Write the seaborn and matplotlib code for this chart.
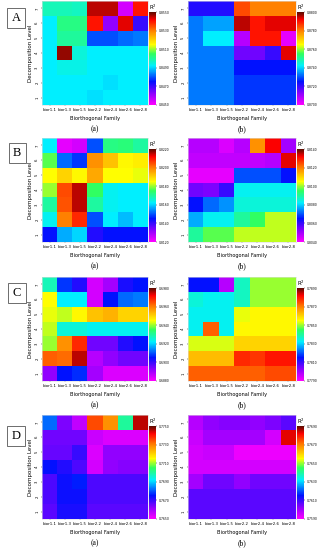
import numpy as np
import pandas as pd
import matplotlib
matplotlib.use("Agg")
import matplotlib.pyplot as plt
import seaborn as sns
from matplotlib.colors import LinearSegmentedColormap

families = ["bior1.1", "bior1.3", "bior1.5", "bior2.2", "bior2.4", "bior2.6", "bior2.8"]
levels = [7, 6, 5, 4, 3, 2, 1]  # top to bottom

A_a = [[0.8498, 0.8498, 0.8497, 0.8545, 0.8545, 0.8455, 0.8540],
       [0.8492, 0.8502, 0.8502, 0.8540, 0.8462, 0.8543, 0.8470],
       [0.8492, 0.8500, 0.8500, 0.8480, 0.8480, 0.8482, 0.8483],
       [0.8492, 0.8547, 0.8495, 0.8492, 0.8492, 0.8492, 0.8492],
       [0.8492, 0.8494, 0.8494, 0.8492, 0.8492, 0.8492, 0.8492],
       [0.8492, 0.8492, 0.8492, 0.8492, 0.8491, 0.8492, 0.8492],
       [0.8492, 0.8492, 0.8492, 0.8491, 0.8492, 0.8492, 0.8492]]
A_b = [[0.8722, 0.8722, 0.8722, 0.8785, 0.8780, 0.8780, 0.8780],
       [0.8733, 0.8736, 0.8736, 0.8795, 0.8790, 0.8793, 0.8793],
       [0.8733, 0.8742, 0.8742, 0.8708, 0.8790, 0.8790, 0.8703],
       [0.8733, 0.8733, 0.8733, 0.8715, 0.8715, 0.8720, 0.8793],
       [0.8733, 0.8733, 0.8733, 0.8725, 0.8725, 0.8725, 0.8725],
       [0.8733, 0.8733, 0.8733, 0.8728, 0.8728, 0.8728, 0.8728],
       [0.8733, 0.8733, 0.8733, 0.8728, 0.8728, 0.8728, 0.8728]]
B_a = [[0.8162, 0.8123, 0.8125, 0.8150, 0.8172, 0.8173, 0.8170],
       [0.8177, 0.8152, 0.8148, 0.8198, 0.8192, 0.8186, 0.8187],
       [0.8185, 0.8190, 0.8186, 0.8195, 0.8185, 0.8185, 0.8184],
       [0.8180, 0.8205, 0.8215, 0.8175, 0.8163, 0.8162, 0.8162],
       [0.8170, 0.8204, 0.8215, 0.8170, 0.8163, 0.8162, 0.8162],
       [0.8163, 0.8200, 0.8208, 0.8150, 0.8162, 0.8158, 0.8162],
       [0.8145, 0.8157, 0.8160, 0.8142, 0.8145, 0.8145, 0.8145]]
B_b = [[0.8048, 0.8048, 0.8044, 0.8048, 0.8118, 0.8132, 0.8050],
       [0.8047, 0.8047, 0.8047, 0.8047, 0.8047, 0.8048, 0.8133],
       [0.8043, 0.8043, 0.8043, 0.8070, 0.8070, 0.8070, 0.8065],
       [0.8055, 0.8054, 0.8060, 0.8083, 0.8083, 0.8083, 0.8083],
       [0.8065, 0.8072, 0.8075, 0.8085, 0.8085, 0.8085, 0.8085],
       [0.8077, 0.8083, 0.8083, 0.8090, 0.8095, 0.8102, 0.8102],
       [0.8090, 0.8097, 0.8097, 0.8102, 0.8102, 0.8102, 0.8102]]
C_a = [[0.6928, 0.6908, 0.6902, 0.6885, 0.6890, 0.6903, 0.6905],
       [0.6945, 0.6922, 0.6922, 0.6885, 0.6905, 0.6912, 0.6913],
       [0.6944, 0.6942, 0.6946, 0.6952, 0.6954, 0.6950, 0.6950],
       [0.6942, 0.6925, 0.6925, 0.6923, 0.6923, 0.6923, 0.6923],
       [0.6940, 0.6958, 0.6968, 0.6895, 0.6895, 0.6902, 0.6905],
       [0.6963, 0.6962, 0.6975, 0.6888, 0.6892, 0.6895, 0.6895],
       [0.6892, 0.6905, 0.6907, 0.6890, 0.6884, 0.6884, 0.6884]]
C_b = [[0.7815, 0.7815, 0.7798, 0.7837, 0.7850, 0.7850, 0.7850],
       [0.7835, 0.7833, 0.7833, 0.7837, 0.7850, 0.7850, 0.7850],
       [0.7833, 0.7833, 0.7833, 0.7854, 0.7856, 0.7856, 0.7856],
       [0.7833, 0.7873, 0.7833, 0.7856, 0.7856, 0.7856, 0.7856],
       [0.7853, 0.7853, 0.7853, 0.7860, 0.7860, 0.7860, 0.7860],
       [0.7863, 0.7863, 0.7863, 0.7878, 0.7877, 0.7880, 0.7880],
       [0.7873, 0.7873, 0.7873, 0.7873, 0.7873, 0.7875, 0.7875]]
D_a = [[0.7682, 0.7664, 0.7657, 0.7735, 0.7728, 0.7700, 0.7745],
       [0.7665, 0.7665, 0.7665, 0.7656, 0.7654, 0.7654, 0.7654],
       [0.7666, 0.7666, 0.7670, 0.7654, 0.7662, 0.7662, 0.7662],
       [0.7675, 0.7672, 0.7668, 0.7655, 0.7662, 0.7663, 0.7663],
       [0.7668, 0.7674, 0.7676, 0.7668, 0.7668, 0.7668, 0.7668],
       [0.7668, 0.7674, 0.7674, 0.7668, 0.7668, 0.7668, 0.7668],
       [0.7667, 0.7673, 0.7673, 0.7667, 0.7667, 0.7667, 0.7667]]
D_b = [[0.7598, 0.7602, 0.7603, 0.7603, 0.7602, 0.7604, 0.7607],
       [0.7596, 0.7600, 0.7600, 0.7600, 0.7600, 0.7595, 0.7683],
       [0.7595, 0.7596, 0.7596, 0.7592, 0.7592, 0.7592, 0.7592],
       [0.7595, 0.7595, 0.7595, 0.7595, 0.7595, 0.7595, 0.7595],
       [0.7600, 0.7605, 0.7605, 0.7602, 0.7605, 0.7605, 0.7605],
       [0.7607, 0.7607, 0.7607, 0.7607, 0.7607, 0.7607, 0.7607],
       [0.7607, 0.7607, 0.7607, 0.7607, 0.7607, 0.7607, 0.7607]]

ranges = {"A_a": (0.8450, 0.8550), "A_b": (0.8700, 0.8800),
          "B_a": (0.8120, 0.8220), "B_b": (0.8040, 0.8140),
          "C_a": (0.6880, 0.6980), "C_b": (0.7790, 0.7890),
          "D_a": (0.7650, 0.7750), "D_b": (0.7590, 0.7690)}
panels = {"A_a": A_a, "A_b": A_b, "B_a": B_a, "B_b": B_b,
          "C_a": C_a, "C_b": C_b, "D_a": D_a, "D_b": D_b}

cmap = LinearSegmentedColormap.from_list("r2", [
    (0.00, "#ff00ff"), (0.12, "#9000ff"), (0.25, "#0010ff"), (0.42, "#00f0ff"),
    (0.55, "#30ff60"), (0.65, "#ffff00"), (0.80, "#ff8000"), (0.92, "#ff0000"),
    (1.00, "#5a0a00")])

W, H = 326, 550
fig = plt.figure(figsize=(W / 100, H / 100), dpi=100)
fig.patch.set_facecolor("white")


def px_axes(x0, y0, x1, y1):
    return fig.add_axes([x0 / W, 1 - y1 / H, (x1 - x0) / W, (y1 - y0) / H])


rows = [("A", 1, (6, 7)), ("B", 138, (7, 142)), ("C", 277, (7, 282)), ("D", 415, (6, 425))]
cols = [("a", 42, 148, 149, 156), ("b", 188, 296, 297, 304)]

for letter, y0, (bx, by) in rows:
    for sub, hx0, hx1, cx0, cx1 in cols:
        key = f"{letter}_{sub}"
        df = pd.DataFrame(panels[key], index=levels, columns=families)
        vmin, vmax = ranges[key]
        ax = px_axes(hx0, y0, hx1, y0 + 104)
        cax = px_axes(cx0, y0 + 11, cx1, y0 + 104)
        sns.heatmap(df, ax=ax, cbar_ax=cax, cmap=cmap, vmin=vmin, vmax=vmax,
                    xticklabels=families, yticklabels=levels)
        ax.tick_params(axis="x", labelsize=2.8, length=1, width=0.3, pad=1.5, rotation=0)
        ax.tick_params(axis="y", labelsize=2.8, length=1, width=0.3, pad=1, rotation=90)
        ax.set_xlabel("Biorthogonal Family", fontsize=3.6, labelpad=2.5)
        ax.set_ylabel("Decomposition Level", fontsize=4, labelpad=1.5)
        for s in ax.spines.values():
            s.set_visible(True)
            s.set_linewidth(0.4)
            s.set_color("#dddddd")
        ticks = np.linspace(vmin, vmax, 6)
        cax.set_yticks(ticks)
        cax.set_yticklabels([f"{t:.4f}" for t in ticks])
        cax.tick_params(labelsize=2.2, length=1, width=0.3, pad=1)
        cax.set_title("R$^2$", fontsize=3.8, pad=1.5, loc="left")
        fig.text(((hx0 + hx1) / 2) / W, 1 - (y0 + 128) / H, f"({sub})",
                 ha="center", va="center", fontsize=5.5, family="Liberation Serif")
    fig.text((bx + 10) / W, 1 - (by + 11) / H, letter, ha="center", va="center",
             fontsize=9, family="Liberation Serif",
             bbox=dict(boxstyle="square,pad=0.35", fc="white", ec="#555555", lw=0.6))

fig.savefig("out.png", dpi=100)
